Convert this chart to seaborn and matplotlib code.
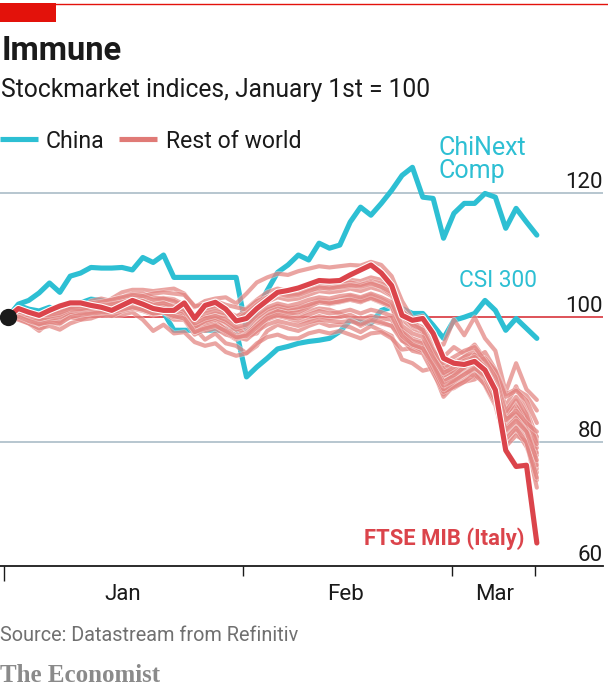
import matplotlib
matplotlib.use("Agg")
import matplotlib.pyplot as plt
import matplotlib.patheffects as pe
from matplotlib.lines import Line2D
from matplotlib.patches import Rectangle
import pandas as pd
import seaborn as sns

# ---------------- data (trading days from Jan 1st 2020, index = 100) ----------------
days = list(range(52))

chinext = [100.0, 102.1, 102.7, 103.9, 105.5, 104.0, 106.6, 107.1, 108.0, 107.9,
           107.9, 108.0, 107.6, 109.6, 108.8, 110.0, 106.4, 106.4, 106.4, 106.4,
           106.4, 106.4, 106.4, 97.9, 101.1, 104.3, 107.2, 108.4, 110.0, 109.2,
           111.9, 111.1, 111.6, 115.3, 117.7, 116.4, 118.3, 120.4, 122.8, 124.1,
           119.3, 119.1, 112.7, 116.7, 118.3, 118.3, 119.9, 119.3, 114.3, 117.5,
           115.3, 113.2]

csi300 = [100.0, 101.9, 101.3, 101.0, 101.6, 100.8, 101.4, 102.3, 102.9, 102.7,
          102.4, 102.1, 101.8, 101.8, 101.3, 100.8, 97.9, 97.9, 97.9, 97.9,
          97.9, 97.9, 97.9, 90.4, 92.0, 93.4, 94.9, 95.3, 95.8, 96.1,
          96.3, 96.6, 97.7, 99.5, 99.2, 99.0, 101.1, 101.6, 101.4, 100.6,
          100.6, 98.7, 96.6, 99.5, 100.0, 100.6, 102.7, 101.1, 97.9, 99.8,
          98.2, 96.6]

ftse_mib = [100.0, 101.4, 100.8, 100.3, 101.1, 101.8, 102.3, 102.3, 101.9, 101.6,
            101.1, 101.9, 102.7, 102.1, 101.4, 101.1, 101.1, 102.3, 99.8, 101.9,
            102.4, 101.3, 99.4, 99.8, 101.4, 102.7, 104.0, 104.3, 104.7, 105.3,
            105.9, 105.8, 105.9, 106.8, 107.6, 108.4, 107.1, 105.1, 100.3, 99.5,
            99.8, 97.4, 93.4, 92.6, 92.4, 92.9, 91.5, 88.3, 78.6, 76.0,
            76.2, 63.7]

rest_of_world = {
    "r01": [100.0, 100.8, 100.1, 100.5, 100.3, 100.9, 101.6, 101.4, 102.4, 102.1,
            103.0, 104.0, 104.4, 104.4, 104.2, 104.4, 104.6, 103.8, 101.6, 102.6,
            103.0, 103.2, 102.2, 103.8, 105.6, 106.4, 107.0, 106.8, 107.4, 107.8,
            108.2, 108.0, 108.2, 108.4, 108.3, 108.9, 108.4, 106.6, 102.6, 99.8,
            100.2, 95.8, 95.6, 99.6, 97.1, 100.0, 96.6, 94.6, 88.0, 92.6,
            88.4, 86.7],
    "r02": [100.0, 100.6, 100.2, 100.1, 100.5, 100.8, 101.5, 101.7, 102.0, 102.3,
            102.5, 103.0, 103.4, 103.5, 103.0, 103.1, 102.9, 102.0, 100.3, 101.0,
            101.5, 101.2, 99.9, 101.4, 102.8, 104.0, 104.6, 104.2, 104.6, 105.0,
            105.6, 105.5, 105.7, 106.0, 105.8, 106.4, 106.0, 105.0, 101.2, 99.1,
            98.4, 95.0, 93.6, 95.2, 94.1, 95.6, 93.2, 91.4, 85.6, 88.9,
            85.3, 80.5],
    "r03": [100.0, 100.9, 100.4, 100.0, 100.6, 101.0, 101.8, 102.0, 101.9, 102.2,
            102.0, 102.6, 103.0, 102.8, 102.3, 102.5, 102.0, 101.4, 99.4, 100.0,
            100.6, 100.2, 99.0, 99.6, 101.2, 102.5, 103.2, 102.8, 103.0, 103.6,
            104.2, 104.0, 104.2, 104.6, 104.2, 104.8, 104.3, 103.4, 99.6, 98.2,
            97.5, 94.2, 91.8, 92.8, 93.6, 94.0, 92.4, 89.6, 83.8, 85.6,
            83.4, 77.8],
    "r04": [100.0, 100.3, 99.6, 99.2, 99.8, 100.2, 100.9, 101.2, 101.4, 101.6,
            101.7, 102.1, 102.5, 102.6, 101.9, 102.2, 101.8, 101.0, 98.6, 99.2,
            99.8, 99.0, 97.6, 98.0, 99.8, 101.0, 101.8, 101.2, 101.6, 102.2,
            102.8, 102.6, 102.9, 103.4, 103.0, 103.6, 102.9, 102.0, 98.0, 96.6,
            96.0, 93.0, 90.2, 91.0, 92.4, 93.2, 91.4, 88.2, 82.6, 84.4,
            82.0, 75.6],
    "r05": [100.0, 100.2, 99.2, 98.8, 99.3, 99.6, 100.5, 100.6, 100.8, 101.0,
            101.3, 101.8, 102.2, 102.0, 101.4, 101.6, 101.0, 100.4, 97.6, 98.6,
            99.0, 98.2, 97.0, 97.6, 99.2, 100.6, 101.4, 101.0, 101.2, 101.9,
            102.4, 102.1, 102.4, 102.8, 102.5, 103.0, 102.3, 101.6, 97.6, 95.8,
            95.2, 92.0, 87.6, 90.0, 91.4, 92.6, 90.4, 87.0, 81.0, 82.8,
            80.4, 73.8],
    "r06": [100.0, 99.8, 99.0, 97.8, 99.2, 98.8, 100.4, 100.8, 101.0, 101.6,
            101.4, 101.6, 102.0, 101.8, 101.0, 101.6, 100.6, 100.8, 98.6, 98.0,
            98.6, 97.4, 98.4, 97.0, 97.4, 99.6, 100.8, 100.6, 100.2, 101.0,
            101.4, 101.2, 100.6, 99.8, 98.6, 99.4, 99.0, 98.6, 97.0, 95.6,
            94.6, 92.8, 89.6, 90.6, 91.6, 90.4, 91.6, 89.2, 84.0, 84.6,
            83.2, 80.8],
    "r07": [100.0, 100.6, 100.2, 99.2, 100.0, 99.0, 100.6, 101.2, 102.6, 103.0,
            102.6, 103.0, 103.4, 102.6, 101.4, 101.8, 100.6, 100.4, 98.2, 96.4,
            97.4, 95.8, 95.4, 94.2, 95.4, 97.8, 98.8, 98.2, 97.8, 98.6,
            99.2, 98.6, 98.8, 98.4, 97.6, 98.6, 97.8, 97.0, 93.2, 92.6,
            91.4, 91.8, 88.0, 88.6, 89.6, 90.0, 91.2, 89.0, 84.8, 85.6,
            84.0, 80.0],
    "r08": [100.0, 99.6, 99.0, 98.2, 98.6, 98.0, 99.0, 99.6, 100.4, 100.8,
            100.2, 100.4, 100.8, 99.6, 97.8, 98.8, 97.4, 97.6, 96.0, 95.4,
            95.8, 94.4, 93.8, 94.2, 95.8, 96.8, 97.2, 96.6, 96.6, 97.4,
            97.8, 97.4, 97.8, 97.2, 96.6, 97.4, 97.6, 96.6, 94.8, 95.0,
            94.4, 94.2, 91.2, 91.8, 92.6, 93.4, 94.4, 91.6, 87.6, 88.4,
            87.4, 85.0],
    "r09": [100.0, 100.4, 99.4, 98.8, 99.4, 99.8, 101.0, 100.8, 101.0, 100.8,
            101.0, 101.4, 101.8, 101.6, 101.4, 101.6, 101.2, 100.6, 98.2, 99.0,
            99.4, 98.0, 97.0, 97.2, 98.8, 100.4, 101.2, 101.0, 101.2, 101.8,
            102.6, 102.4, 102.6, 102.8, 102.4, 103.2, 102.4, 101.6, 97.4, 95.4,
            94.8, 91.4, 87.2, 89.0, 90.0, 91.6, 89.0, 85.8, 79.6, 81.8,
            79.2, 75.0],
    "r10": [100.0, 100.6, 100.6, 100.4, 100.8, 101.2, 101.8, 101.6, 101.8, 102.4,
            102.8, 103.2, 103.8, 103.8, 103.2, 103.0, 102.8, 102.0, 100.2, 101.2,
            101.6, 101.0, 100.2, 100.6, 101.8, 103.2, 103.8, 103.6, 103.8, 104.4,
            104.6, 104.8, 105.2, 105.6, 105.2, 105.8, 105.4, 104.6, 100.8, 98.6,
            98.0, 94.8, 92.0, 92.4, 93.6, 94.6, 92.2, 89.4, 84.2, 86.6,
            83.6, 76.2],
    "r11": [100.0, 100.4, 99.6, 99.0, 99.2, 99.4, 100.0, 99.6, 99.8, 100.4,
            100.2, 101.0, 101.4, 101.0, 100.4, 100.8, 99.6, 99.6, 97.2, 98.0,
            98.8, 97.4, 96.4, 97.4, 98.6, 99.6, 100.2, 99.8, 99.2, 99.6,
            100.2, 99.8, 100.0, 100.4, 99.6, 100.2, 99.8, 99.6, 96.4, 94.6,
            94.2, 91.0, 88.0, 88.8, 89.6, 90.8, 89.2, 86.2, 79.2, 81.0,
            80.0, 72.6],
    "r12": [100.0, 100.2, 99.8, 98.8, 99.6, 99.4, 100.4, 101.0, 101.6, 101.4,
            102.2, 102.6, 103.0, 103.4, 103.8, 104.0, 103.8, 103.6, 101.8, 102.0,
            102.6, 102.0, 101.6, 101.2, 102.6, 103.2, 104.0, 103.8, 103.8, 104.6,
            105.0, 104.8, 104.8, 105.0, 105.2, 105.6, 104.8, 103.6, 101.0, 99.6,
            97.6, 94.2, 91.6, 91.0, 91.8, 94.0, 93.0, 90.2, 83.6, 84.4,
            82.4, 78.2],
    "r13": [100.0, 100.8, 100.4, 99.6, 99.8, 99.2, 100.6, 101.0, 101.4, 101.6,
            101.2, 101.4, 101.6, 101.2, 100.6, 100.8, 100.0, 100.2, 98.8, 97.8,
            98.2, 97.2, 96.8, 96.4, 97.8, 98.8, 99.4, 99.0, 98.6, 99.2,
            99.6, 99.4, 99.2, 99.4, 98.8, 99.6, 99.2, 98.6, 96.2, 95.4,
            94.6, 93.6, 90.6, 91.4, 92.4, 92.8, 93.4, 91.4, 87.2, 88.2,
            86.6, 83.0],
    "r14": [100.0, 100.6, 99.8, 99.4, 99.8, 100.0, 100.8, 100.6, 100.8, 101.0,
            101.2, 101.6, 102.2, 102.0, 101.6, 101.8, 101.2, 100.2, 97.6, 98.4,
            98.8, 97.6, 96.6, 97.2, 98.8, 100.2, 101.0, 100.6, 100.8, 101.6,
            102.4, 102.2, 102.6, 103.0, 102.8, 103.4, 102.6, 101.8, 97.6, 95.6,
            95.0, 91.8, 88.4, 89.6, 90.8, 92.0, 90.2, 86.6, 80.4, 82.2,
            79.8, 74.2],
    "r15": [100.0, 100.5, 99.9, 99.6, 100.1, 100.4, 101.2, 101.0, 101.3, 101.5,
            101.6, 102.0, 102.3, 102.2, 101.7, 101.9, 101.4, 100.8, 98.4, 99.4,
            99.9, 99.2, 98.0, 98.6, 100.0, 101.2, 101.8, 101.4, 101.6, 102.0,
            102.6, 102.3, 102.5, 102.9, 102.6, 103.1, 102.5, 101.8, 97.8, 96.2,
            95.8, 92.6, 89.6, 90.6, 92.0, 93.0, 91.0, 87.8, 82.0, 83.8,
            81.6, 79.0],
    "r16": [100.0, 100.7, 100.3, 100.2, 100.7, 101.1, 101.6, 101.9, 102.2, 102.5,
            102.8, 103.2, 103.6, 103.4, 102.8, 103.0, 102.6, 101.8, 99.8, 100.6,
            101.0, 100.6, 99.6, 100.6, 102.0, 103.2, 103.8, 103.4, 103.6, 104.2,
            104.8, 104.6, 104.9, 105.2, 104.9, 105.4, 104.9, 104.0, 100.2, 98.8,
            98.0, 94.6, 92.6, 93.6, 94.6, 95.2, 93.0, 90.4, 84.8, 87.2,
            84.4, 79.6],
    "r17": [100.0, 100.1, 99.4, 98.9, 99.2, 99.0, 100.0, 100.4, 100.6, 100.8,
            100.8, 101.2, 101.6, 101.2, 100.6, 100.8, 100.2, 99.8, 97.6, 98.2,
            98.6, 97.8, 96.8, 97.0, 98.4, 99.8, 100.4, 100.0, 99.8, 100.4,
            101.0, 100.6, 100.8, 101.2, 100.6, 101.2, 100.8, 100.2, 97.0, 95.6,
            95.0, 92.4, 89.0, 89.8, 90.8, 91.8, 90.6, 87.6, 81.8, 83.4,
            81.6, 77.0],
    "r18": [100.0, 100.9, 100.6, 100.3, 100.4, 100.7, 101.4, 101.3, 101.6, 101.9,
            102.1, 102.4, 102.8, 102.6, 102.0, 102.3, 101.6, 101.2, 99.0, 99.8,
            100.2, 99.6, 98.4, 98.8, 100.4, 101.6, 102.2, 101.8, 102.2, 102.8,
            103.2, 103.0, 103.4, 103.6, 103.2, 103.8, 103.2, 102.4, 98.6, 97.4,
            96.8, 93.6, 91.0, 92.0, 93.0, 93.6, 92.0, 89.0, 83.4, 85.0,
            83.0, 81.6],
}

y_ticks = [60, 80, 100, 120]
month_labels = ["Jan", "Feb", "Mar"]
month_label_days = [11.1, 32.55, 46.95]
month_tick_days = [-0.39, 22.66, 42.8, 50.8]

title = "Immune"
subtitle = "Stockmarket indices, January 1st = 100"
legend_labels = ["China", "Rest of world"]
source = "Source: Datastream from Refinitiv"

# ---------------- style ----------------
CYAN = "#2dbfd3"
RED = "#db444b"
PINK = "#dc6460"
GRID = "#b7c6cf"
ECON_RED = "#e3120b"
INK = "#1a1a1a"

sns.set_theme(style="white")
plt.rcParams["font.family"] = ["Roboto", "DejaVu Sans"]

W, H = 608, 689
fig = plt.figure(figsize=(W / 100, H / 100), dpi=100)
fig.patch.set_facecolor("white")


def fx(p):
    return p / W


def fy(p):
    return 1 - p / H


ax = fig.add_axes([0, fy(566), fx(603), fy(130) - fy(566)])
ax.set_facecolor("white")

# long-form table for the rest of the world
pink_df = pd.DataFrame(
    [(name, d, v) for name, vals in rest_of_world.items() for d, v in zip(days, vals)],
    columns=["series", "day", "value"],
)

# gridlines
for v in y_ticks:
    if v == 100:
        ax.axhline(v, color=RED, lw=1.3, zorder=1.5)
    elif v != 60:
        ax.axhline(v, color=GRID, lw=1.4, zorder=1)

sns.lineplot(x=days, y=chinext, color=CYAN, lw=3.7, ax=ax, zorder=2)
sns.lineplot(x=days, y=csi300, color=CYAN, lw=3.7, ax=ax, zorder=2)

sns.lineplot(data=pink_df, x="day", y="value", units="series", estimator=None,
             color=PINK, alpha=0.58, lw=3.0, ax=ax, zorder=3, legend=False,
             path_effects=[pe.Stroke(linewidth=4.0, foreground="white", alpha=0.4),
                           pe.Normal()])

sns.lineplot(x=days, y=ftse_mib, color=RED, lw=3.7, ax=ax, zorder=4,
             path_effects=[pe.Stroke(linewidth=5.2, foreground="white"), pe.Normal()])

ax.scatter([days[0]], [100], s=155, color=INK, zorder=6, clip_on=False,
           linewidths=0)

ax.set_xlim(-0.771, 57.38)
ax.set_ylim(60, 130.1)
for s in ["top", "left", "right"]:
    ax.spines[s].set_visible(False)
ax.spines["bottom"].set_color(INK)
ax.spines["bottom"].set_linewidth(1.3)
ax.set_yticks([])
ax.set_xlabel("")
ax.set_ylabel("")

ax.set_xticks(month_tick_days)
ax.set_xticklabels([""] * len(month_tick_days))
ax.tick_params(axis="x", which="major", length=7.2, width=1.0, color=INK,
               direction="out", bottom=True)
ax.xaxis.get_major_ticks()[0].tick1line.set_markersize(10.5)
ax.set_xticks(month_label_days, minor=True)
ax.set_xticklabels(month_labels, minor=True, fontsize=16, color=INK)
ax.tick_params(axis="x", which="minor", length=0, pad=13)

# right-hand value labels
for v in y_ticks:
    ax.text(57.38, v + 0.8, str(v), ha="right", va="baseline", fontsize=16,
            color=INK)

# annotations (multi-line text: baseline is that of the last line)
ax.text(41.5, 122.45, "ChiNext\nComp", color=CYAN, fontsize=18, ha="left",
        va="baseline", linespacing=0.9)
ax.text(43.5, 104.8, "CSI 300", color=CYAN, fontsize=16.3, ha="left", va="baseline")
ax.text(49.85, 63.3, "FTSE MIB (Italy)", color=RED, fontsize=15.8, fontweight="bold",
        ha="right", va="baseline")

# header
fig.add_artist(Rectangle((0, fy(22)), fx(56), fy(3) - fy(22), transform=fig.transFigure,
                         color=ECON_RED, lw=0))
fig.add_artist(Line2D([0, 1], [fy(4), fy(4)], transform=fig.transFigure, color=ECON_RED,
                      lw=1.0))
fig.text(fx(2), fy(60), title, fontsize=23.5, fontweight="bold", color=INK,
         ha="left", va="baseline")
fig.text(fx(1), fy(97), subtitle, fontsize=17.7, color=INK, ha="left",
         va="baseline")

# legend
fig.add_artist(Line2D([fx(0), fx(38)], [fy(139), fy(139)], transform=fig.transFigure,
                      color=CYAN, lw=3.7, solid_capstyle="butt"))
fig.text(fx(46), fy(148), legend_labels[0], fontsize=16.6, color=INK,
         ha="left", va="baseline")
fig.add_artist(Line2D([fx(119), fx(157)], [fy(139), fy(139)], transform=fig.transFigure,
                      color="#e07a76", lw=3.7, solid_capstyle="butt"))
fig.text(fx(166), fy(148), legend_labels[1], fontsize=16.6, color=INK,
         ha="left", va="baseline")

# footer
fig.text(fx(0), fy(641), source, fontsize=14.3, color="#707070", ha="left",
         va="baseline")
fig.text(fx(0), fy(682), "The Economist", fontsize=18, color="#8a8a8a",
         fontweight="bold", family=["Liberation Serif", "DejaVu Serif"],
         ha="left", va="baseline")

fig.savefig("out.png", dpi=100, facecolor="white")
